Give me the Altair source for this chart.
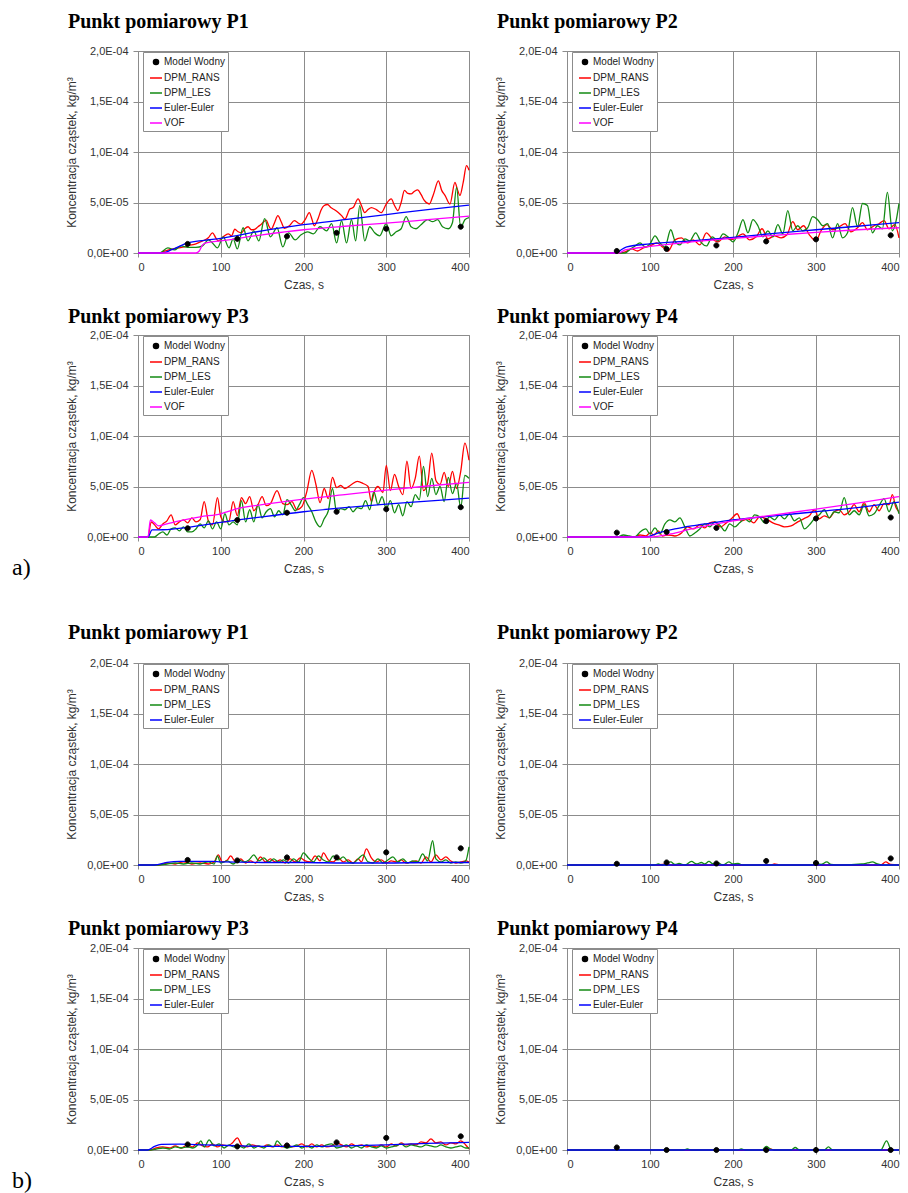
import altair as alt
import pandas as pd

# ---------------- shared tick / series definitions ----------------
X_TICKS = [0, 100, 200, 300, 400]
Y_TICKS = [0.0, 5e-5, 1e-4, 1.5e-4, 2e-4]
Y_TICK_LABELS = ["0,0E+00", "5,0E-05", "1,0E-04", "1,5E-04", "2,0E-04"]
SERIES_A = ["Model Wodny", "DPM_RANS", "DPM_LES", "Euler-Euler", "VOF"]
SERIES_B = ["Model Wodny", "DPM_RANS", "DPM_LES", "Euler-Euler"]
SERIES_COLORS = ["#000000", "#ff0000", "#138a13", "#0000ff", "#ff00ff"]
MW_TIME = [60, 120, 180, 240, 300, 390]
UNIT = 1e-5  # all values below are in 1e-5 kg/m3

# ---------------- a) P1 ----------------
A1_MW = [0.9, 1.4, 1.65, 2.0, 2.4, 2.6]
A1_RANS = [(0,0),(20,0),(26,0),(33,0.2),(40,0.36),(48,0.5),(56,0.6),(62,0.75),(68,0.86),(74,1.05),(80,1.26),(85,1.5),(90,2.0),(94,1.5),(97,1.2),(103,1.6),(109,1.9),(113,1.7),(117,2.35),(121,2.1),(125,2.0),(129,2.4),(133,2.6),(137,2.3),(141,2.35),(145,2.6),(149,2.85),(155,3.25),(158,2.7),(161,2.35),(165,3.0),(169,3.7),(173,3.1),(177,2.45),(183,2.7),(189,3.2),(193,3.0),(197,2.85),(202,3.3),(207,4.0),(210,3.4),(213,2.7),(218,3.5),(221,4.2),(225,4.7),(229,4.8),(233,4.5),(237,4.3),(242,4.0),(246,3.7),(250,3.35),(256,4.35),(260,4.5),(266,5.35),(270,4.7),(274,4.0),(278,4.3),(282,4.5),(288,4.3),(294,4.0),(300,4.85),(306,5.35),(310,4.7),(314,4.2),(318,5.0),(322,6.2),(326,5.9),(330,5.85),(334,6.1),(338,6.25),(342,5.8),(346,5.2),(352,4.85),(357,5.8),(363,7.15),(367,6.2),(371,5.7),(377,4.85),(383,7.0),(386,6.3),(389,5.7),(393,7.0),(397,8.65),(400,8.2)]
A1_LES = [(0,0),(26,0),(36,0.5),(44,0.3),(52,0.7),(60,0.55),(70,0.55),(78,0.7),(85,1.3),(90,1.0),(96,0.5),(103,1.6),(110,0.5),(115,1.4),(120,0.4),(127,2.5),(133,1.2),(140,2.2),(146,1.2),(153,3.4),(160,1.6),(168,2.5),(175,0.6),(182,2.0),(190,1.3),(197,1.8),(205,2.1),(212,1.9),(220,2.6),(228,2.2),(234,2.9),(240,1.0),(246,3.2),(252,1.0),(258,3.3),(263,1.2),(268,4.7),(274,1.2),(280,2.6),(286,2.0),(292,1.7),(300,2.9),(306,1.7),(312,2.1),(318,2.4),(324,3.6),(330,2.6),(336,2.4),(342,2.8),(350,3.3),(356,3.1),(362,3.3),(368,2.6),(375,2.4),(380,3.0),(385,6.5),(390,2.5),(395,3.3),(400,3.5)]
A1_EULER = [(0,0),(30,0),(40,0.3),(50,0.65),(60,1.0),(80,1.25),(100,1.45),(150,2.2),(200,2.8),(250,3.3),(300,3.8),(350,4.3),(400,4.75)]
A1_VOF = [(0,0),(70,0),(74,0.2),(78,0.8),(82,1.0),(100,1.2),(150,1.8),(200,2.3),(250,2.65),(300,2.95),(350,3.3),(400,3.65)]

# ---------------- a) P2 ----------------
A2_MW = [0.2, 0.4, 0.75, 1.15, 1.35, 1.75]
A2_RANS = [(0,0),(65,0),(70,0.1),(78,0.4),(85,0.2),(92,0.5),(100,0.7),(108,1.0),(115,0.6),(122,0.2),(130,1.3),(138,1.5),(145,1.0),(152,1.3),(160,0.8),(168,2.0),(175,1.4),(182,1.1),(190,1.6),(197,1.3),(205,1.6),(212,1.9),(220,1.3),(228,1.6),(235,2.4),(242,1.4),(250,1.7),(258,1.5),(265,1.8),(272,3.1),(278,2.3),(285,2.7),(292,1.8),(300,1.2),(306,2.2),(313,2.8),(320,2.3),(328,2.6),(335,2.9),(342,2.1),(350,2.5),(356,3.0),(362,2.3),(370,2.7),(376,2.9),(382,3.2),(388,2.4),(395,2.8),(400,1.5)]
A2_LES = [(0,0),(70,0),(75,0.3),(82,0.7),(88,1.0),(94,0.6),(100,0.9),(106,1.7),(112,1.0),(118,0.6),(125,2.3),(130,1.2),(136,0.8),(142,1.4),(148,1.2),(155,2.0),(162,1.0),(168,0.7),(175,1.6),(182,1.2),(188,1.9),(194,1.6),(200,1.1),(206,2.0),(212,3.3),(218,2.0),(224,3.3),(230,2.7),(236,1.6),(242,2.2),(248,1.6),(254,2.8),(260,1.9),(266,4.2),(272,2.2),(278,2.7),(284,2.2),(290,2.5),(296,3.6),(302,3.3),(308,2.7),(314,2.9),(320,1.5),(326,2.9),(332,1.5),(338,2.0),(344,4.5),(350,2.6),(356,4.9),(362,4.7),(368,2.0),(374,2.7),(380,2.4),(386,6.0),(392,2.2),(396,3.0),(400,4.9)]
A2_EULER = [(0,0),(60,0),(65,0.3),(72,0.6),(100,0.9),(150,1.2),(200,1.55),(250,1.95),(300,2.3),(350,2.65),(400,3.0)]
A2_VOF = [(0,0),(62,0),(70,0.3),(80,0.45),(100,0.65),(150,1.1),(200,1.45),(250,1.75),(300,2.05),(350,2.3),(400,2.5)]

# ---------------- a) P3 ----------------
A3_MW = [0.86, 1.68, 2.4, 2.5, 2.75, 2.95]
A3_RANS = [(0,0),(12,0),(16,1.5),(20,1.2),(25,0.8),(30,1.3),(35,1.6),(40,2.2),(45,1.2),(50,1.5),(55,1.7),(60,1.4),(65,1.9),(70,1.5),(75,1.7),(80,3.5),(85,1.6),(90,1.2),(96,3.9),(100,2.0),(105,1.5),(110,1.6),(115,3.5),(120,2.1),(125,3.9),(130,3.3),(135,4.0),(140,2.6),(145,3.2),(150,4.0),(155,3.1),(160,3.3),(168,4.6),(175,3.3),(180,3.2),(186,3.5),(192,2.7),(198,3.0),(204,4.5),(210,6.6),(215,5.2),(220,3.4),(225,4.8),(230,3.8),(235,5.9),(240,4.9),(245,5.1),(250,4.8),(258,5.2),(265,5.5),(272,5.3),(278,5.0),(282,3.5),(286,4.6),(290,5.0),(296,4.4),(300,7.1),(305,4.6),(310,6.2),(315,5.0),(320,4.2),(325,7.5),(330,4.8),(335,5.8),(340,8.0),(345,4.6),(350,5.3),(355,8.3),(360,5.6),(365,5.2),(370,6.4),(375,5.0),(380,6.5),(385,4.8),(390,6.5),(395,9.3),(400,7.6)]
A3_LES = [(0,0),(12,0),(20,0),(25,0.3),(30,0.5),(35,0.2),(40,0.8),(45,0.9),(50,0.6),(55,1.0),(60,0.5),(65,0.5),(70,0.8),(75,1.3),(80,0.9),(85,1.6),(90,0.8),(95,1.5),(100,0.8),(105,2.3),(110,1.2),(115,1.5),(120,1.2),(125,3.6),(130,1.5),(135,2.7),(140,1.5),(145,3.2),(150,1.9),(155,2.5),(160,2.8),(165,2.0),(170,2.6),(175,2.2),(180,3.7),(185,3.2),(190,2.6),(195,3.2),(200,3.9),(205,3.2),(210,2.5),(215,1.5),(220,1.0),(225,1.8),(230,2.6),(235,4.8),(240,2.5),(245,2.8),(250,2.7),(255,3.0),(260,2.5),(265,2.9),(270,2.8),(275,3.6),(280,2.7),(285,4.5),(290,3.2),(295,4.0),(300,2.8),(305,3.6),(310,2.4),(315,3.2),(320,2.1),(325,3.5),(330,3.0),(335,4.2),(340,3.7),(345,7.0),(350,4.0),(355,5.8),(360,4.2),(365,5.0),(370,3.5),(375,5.9),(380,4.3),(385,5.3),(390,2.9),(395,6.1),(400,5.8)]
A3_EULER = [(0,0),(12,0),(17,0.7),(30,0.72),(60,0.95),(100,1.45),(150,2.0),(200,2.5),(250,2.9),(300,3.25),(350,3.55),(400,3.85)]
A3_VOF = [(0,0),(12,0),(15,1.7),(20,1.4),(25,1.1),(35,1.3),(50,1.6),(75,2.0),(100,2.3),(120,2.8),(150,3.2),(200,3.75),(250,4.2),(300,4.65),(350,5.05),(400,5.4)]

# ---------------- a) P4 ----------------
A4_MW = [0.43, 0.5, 0.9, 1.57, 1.83, 1.93]
A4_RANS = [(0,0),(80,0),(88,0.2),(95,0.1),(100,0.4),(105,0.2),(110,0.6),(115,0.1),(122,0.2),(130,0.1),(138,0.4),(145,1.0),(152,0.8),(160,1.2),(166,0.9),(172,1.4),(178,1.5),(185,1.0),(192,1.4),(198,1.8),(205,2.3),(210,1.6),(218,1.8),(225,1.4),(232,2.0),(240,1.8),(248,1.4),(255,1.2),(262,1.0),(270,1.1),(278,1.5),(285,1.8),(292,2.1),(298,2.7),(304,1.8),(310,2.1),(316,1.9),(322,2.5),(328,2.7),(334,2.2),(340,2.5),(346,3.2),(352,2.5),(358,3.4),(364,2.5),(370,3.2),(376,2.6),(382,3.3),(388,3.2),(392,4.2),(396,3.0),(400,2.5)]
A4_LES = [(0,0),(60,0),(68,0.2),(75,0.1),(82,0),(88,0.5),(95,0.8),(100,0.3),(106,0.9),(112,0.3),(118,1.3),(124,1.7),(130,1.5),(136,1.9),(142,1.0),(148,0.1),(154,0.4),(160,0.8),(166,1.3),(172,1.0),(178,1.5),(185,1.1),(190,0.6),(196,1.3),(202,1.0),(208,1.4),(214,1.8),(220,1.5),(226,2.2),(232,2.0),(238,1.4),(244,2.0),(250,1.7),(256,2.2),(262,1.8),(268,2.3),(274,1.6),(280,1.9),(286,0.8),(292,1.2),(298,1.8),(304,2.2),(310,2.7),(316,1.9),(322,2.5),(328,2.4),(334,3.9),(340,2.2),(346,2.6),(352,2.2),(358,3.2),(364,2.1),(370,2.3),(376,3.1),(382,3.8),(388,2.5),(394,3.5),(400,2.3)]
A4_EULER = [(0,0),(95,0),(110,0.4),(130,0.8),(150,1.1),(175,1.4),(200,1.7),(250,2.1),(300,2.5),(350,2.9),(400,3.45)]
A4_VOF = [(0,0),(100,0),(125,0.3),(150,0.8),(200,1.6),(250,2.2),(300,2.75),(350,3.35),(400,4.0)]

# ---------------- b) P1 ----------------
B1_MW = [0.5, 0.45, 0.75, 0.75, 1.25, 1.65]
B1_RANS = [(0,0),(25,0),(35,0.2),(45,0.1),(55,0.3),(65,0.1),(75,0.2),(85,0.1),(92,0.3),(97,1.0),(102,0.3),(108,0.5),(112,0.9),(118,0.3),(124,0.6),(130,0.2),(136,0.4),(142,0.2),(148,0.8),(154,0.3),(160,0.6),(166,0.3),(172,0.5),(178,0.2),(184,0.6),(190,0.3),(196,0.7),(202,0.4),(208,0.3),(214,0.9),(220,0.4),(224,1.2),(230,0.5),(236,0.3),(242,0.7),(248,0.3),(254,0.5),(260,0.2),(266,0.6),(270,0.3),(276,1.6),(282,0.7),(288,0.3),(294,0.5),(300,0.2),(306,0.4),(312,0.3),(318,0.5),(324,0.2),(330,0.3),(336,0.4),(342,0.2),(348,0.8),(354,0.3),(360,1.0),(366,0.5),(372,0.8),(378,0.4),(384,0.2),(390,0.3),(396,0.4),(400,0.3)]
B1_LES = [(0,0),(25,0),(35,0.1),(45,0.2),(55,0.1),(65,0.2),(75,0.1),(85,0.3),(92,0.1),(96,0.9),(100,0.2),(108,0.4),(115,0.1),(122,0.5),(128,0.3),(134,0.5),(140,1.0),(146,0.4),(152,0.7),(158,0.3),(164,0.6),(170,0.3),(176,0.5),(182,0.2),(188,0.6),(194,0.3),(200,1.2),(206,0.7),(212,0.3),(218,0.9),(224,0.5),(230,0.3),(236,0.9),(242,0.5),(248,0.8),(254,0.3),(260,0.2),(266,0.6),(272,1.0),(278,0.3),(284,0.2),(290,0.6),(296,0.2),(302,0.5),(308,0.8),(314,0.3),(320,0.6),(326,0.2),(332,0.4),(338,0.3),(344,1.1),(350,0.4),(356,2.4),(360,0.6),(366,0.3),(372,0.5),(378,0.2),(384,0.3),(390,0.2),(396,0.4),(400,1.8)]
B1_EULER = [(0,0),(20,0),(35,0.25),(50,0.35),(90,0.35),(100,0.3),(150,0.25),(200,0.25),(250,0.2),(300,0.2),(350,0.25),(400,0.25)]

# ---------------- b) P2 ----------------
B2_MW = [0.12, 0.25, 0.15, 0.4, 0.2, 0.65]
B2_RANS = [(0,0),(110,0),(115,0.05),(120,0.15),(126,0),(245,0),(250,0.1),(256,0),(378,0),(384,0.3),(390,0.05),(400,0)]
B2_LES = [(0,0),(105,0),(110,0.1),(115,0.0),(125,0.3),(130,0.05),(135,0.15),(142,0.0),(150,0.35),(156,0.1),(162,0.25),(166,0.1),(171,0.35),(176,0.1),(182,0.2),(188,0.0),(195,0.3),(200,0.1),(206,0.15),(212,0),(295,0),(300,0.15),(306,0.05),(313,0.3),(318,0.05),(330,0.0),(355,0.1),(362,0.2),(368,0.3),(374,0.1),(380,0),(400,0)]
B2_EULER = [(0,0),(400,0)]

# ---------------- b) P3 ----------------
B3_MW = [0.55, 0.35, 0.45, 0.75, 1.2, 1.35]
B3_RANS = [(0,0),(15,0),(22,0.2),(30,0.3),(38,0.2),(45,0.4),(52,0.2),(60,0.5),(66,0.3),(72,0.7),(78,0.4),(84,0.3),(90,0.6),(96,0.3),(102,0.5),(108,0.4),(114,0.7),(120,1.2),(126,0.4),(132,0.3),(138,0.5),(144,0.4),(150,0.3),(156,0.5),(162,0.3),(168,0.5),(174,0.3),(180,0.6),(186,0.3),(192,0.4),(198,0.6),(204,0.3),(210,0.6),(216,0.3),(222,0.5),(228,0.3),(234,0.4),(240,0.7),(246,0.5),(252,0.3),(258,0.6),(264,0.4),(270,0.5),(276,0.3),(282,0.4),(288,0.3),(294,0.5),(300,0.3),(306,0.6),(312,0.4),(318,0.7),(324,0.5),(330,0.6),(336,0.5),(342,0.8),(348,0.7),(354,1.1),(360,0.7),(366,0.8),(372,0.5),(378,0.7),(384,0.6),(390,0.9),(396,0.5),(400,0.1)]
B3_LES = [(0,0),(15,0),(22,0.1),(30,0.2),(38,0.1),(45,0.3),(52,0.2),(60,0.3),(66,0.2),(72,0.5),(76,0.9),(80,0.3),(86,1.0),(92,0.4),(98,0.6),(104,0.2),(110,0.5),(116,0.3),(122,0.4),(128,0.2),(134,0.6),(140,0.2),(146,0.4),(152,0.2),(158,0.5),(164,0.3),(168,0.9),(174,0.4),(180,0.2),(186,0.3),(192,0.5),(198,0.2),(204,0.4),(210,0.2),(216,0.5),(222,0.3),(228,0.5),(234,0.6),(240,0.2),(246,0.3),(252,0.5),(258,0.2),(264,0.4),(270,0.2),(276,0.5),(282,0.3),(288,0.2),(294,0.4),(300,0.2),(306,0.3),(312,0.4),(318,0.6),(324,0.3),(330,0.5),(336,0.4),(342,0.3),(348,0.5),(354,0.4),(360,0.3),(366,0.5),(372,0.3),(378,0.2),(384,0.3),(390,0.4),(396,0.2),(400,0.2)]
B3_EULER = [(0,0),(12,0),(20,0.35),(28,0.55),(50,0.58),(80,0.5),(120,0.42),(160,0.35),(200,0.35),(250,0.4),(300,0.5),(350,0.65),(400,0.75)]

# ---------------- b) P4 ----------------
B4_MW = [0.25, 0.0, 0.0, 0.0, 0.0, 0.0]
B4_RANS = [(0,0),(240,0),(245,0.1),(250,0),(400,0)]
B4_LES = [(0,0),(140,0),(145,0.1),(150,0),(205,0),(210,0.1),(215,0),(235,0),(240,0.35),(245,0.1),(250,0),(270,0),(275,0.25),(280,0),(310,0),(315,0.3),(320,0),(378,0),(385,0.9),(391,0),(400,0)]
B4_EULER = [(0,0),(400,0)]

# ---------------- styling ----------------
SANS = "Liberation Sans"
SERIF = "Liberation Serif"
GRID = "#8c8c8c"
TXT = "#333333"
DOT = "M-0.42,0A0.42,0.42,0,1,1,0.42,0A0.42,0.42,0,1,1,-0.42,0Z"
W_L, W_R, H = 331, 332, 202


def y_label_expr():
    expr = "'" + Y_TICK_LABELS[-1] + "'"
    pairs = list(zip(Y_TICKS[:-1], Y_TICK_LABELS[:-1]))
    for val, lab in reversed(pairs):
        expr = "datum.value < %g ? '%s' : (%s)" % (val + 2.5e-5, lab, expr)
    return expr


def panel(title, mw_vals, lines, series, width, title_offset, corner=None, gap_below=None):
    rows = []
    for name, pts in lines.items():
        for t, v in pts:
            rows.append({"t": t, "v": v * UNIT, "series": name})
    line_df = pd.DataFrame(rows)
    pt_df = pd.DataFrame({"t": MW_TIME, "v": [v * UNIT for v in mw_vals],
                          "series": ["Model Wodny"] * len(MW_TIME)})
    colors = SERIES_COLORS[:len(series)]
    shapes = [DOT] + ["stroke"] * (len(series) - 1)

    x = alt.X("t:Q", scale=alt.Scale(domain=[0, 400], nice=False),
              axis=alt.Axis(values=X_TICKS, format="d", title="Czas, s", grid=True,
                            gridColor=GRID, domainColor=GRID, tickColor=GRID, tickSize=4,
                            labelPadding=4, labelFont=SANS, labelFontSize=11, labelColor=TXT,
                            titleFont=SANS, titleFontSize=12, titleFontWeight="normal",
                            titleColor=TXT, titlePadding=7))
    y = alt.Y("v:Q", scale=alt.Scale(domain=[0, 2e-4], nice=False, zero=True),
              axis=alt.Axis(values=Y_TICKS, labelExpr=y_label_expr(),
                            title="Koncentracja cząstek, kg/m³", grid=True,
                            gridColor=GRID, domainColor=GRID, tickColor=GRID, tickSize=5,
                            labelPadding=5, labelFont=SANS, labelFontSize=11, labelColor=TXT,
                            titleFont=SANS, titleFontSize=12, titleFontWeight="normal",
                            titleColor=TXT, titlePadding=8))

    leg = alt.Legend(title=None, orient="none", legendX=5, legendY=1, fillColor="white",
                     strokeColor=GRID, padding=3, rowPadding=3, symbolOffset=3, labelOffset=1,
                     labelFont=SANS, labelFontSize=10, labelColor="#222222", symbolSize=144,
                     symbolStrokeWidth=1.5, cornerRadius=0)
    stroke_scale = alt.Scale(domain=series, range=colors)

    line_layer = alt.Chart(line_df).mark_line(strokeWidth=1.3, interpolate="monotone").encode(
        x=x, y=y,
        stroke=alt.Stroke("series:N", scale=stroke_scale, legend=leg),
    )
    pt_layer = alt.Chart(pt_df).mark_point(filled=True, opacity=1, size=144, strokeWidth=1).encode(
        x=x, y=y,
        fill=alt.Fill("series:N", scale=alt.Scale(domain=series, range=colors), legend=leg),
        stroke=alt.Stroke("series:N", scale=stroke_scale, legend=leg),
        shape=alt.Shape("series:N", scale=alt.Scale(domain=series, range=shapes), legend=leg),
    )
    layers = [line_layer, pt_layer]
    if corner is not None:
        txt = alt.Chart(pd.DataFrame({"lab": [corner]})).mark_text(
            font=SERIF, fontSize=24, align="left", baseline="alphabetic", color="black"
        ).encode(x=alt.value(-126), y=alt.value(H + 38), text="lab:N")
        layers.append(txt)
    if gap_below is not None:
        # invisible layout spacer that widens the gap below this row
        sp = alt.Chart(pd.DataFrame({"lab": ["."]})).mark_text(
            fontSize=10, opacity=0, baseline="bottom"
        ).encode(x=alt.value(width / 2), y=alt.value(H + gap_below), text="lab:N")
        layers.append(sp)
    return alt.layer(*layers).properties(
        width=width, height=H,
        title=alt.TitleParams(title, anchor="start", frame="group", dx=-70, offset=title_offset,
                              baseline="alphabetic", font=SERIF, fontSize=20, fontWeight="bold",
                              color="black"),
    )


INDEP = dict(stroke="independent", fill="independent", shape="independent")

pA1 = panel("Punkt pomiarowy P1", A1_MW, {"DPM_RANS": A1_RANS, "DPM_LES": A1_LES, "Euler-Euler": A1_EULER, "VOF": A1_VOF}, SERIES_A, W_L, -3)
pA2 = panel("Punkt pomiarowy P2", A2_MW, {"DPM_RANS": A2_RANS, "DPM_LES": A2_LES, "Euler-Euler": A2_EULER, "VOF": A2_VOF}, SERIES_A, W_R, -3)
pA3 = panel("Punkt pomiarowy P3", A3_MW, {"DPM_RANS": A3_RANS, "DPM_LES": A3_LES, "Euler-Euler": A3_EULER, "VOF": A3_VOF}, SERIES_A, W_L, -14, corner="a)")
pA4 = panel("Punkt pomiarowy P4", A4_MW, {"DPM_RANS": A4_RANS, "DPM_LES": A4_LES, "Euler-Euler": A4_EULER, "VOF": A4_VOF}, SERIES_A, W_R, -14, gap_below=69)
pB1 = panel("Punkt pomiarowy P1", B1_MW, {"DPM_RANS": B1_RANS, "DPM_LES": B1_LES, "Euler-Euler": B1_EULER}, SERIES_B, W_L, -2)
pB2 = panel("Punkt pomiarowy P2", B2_MW, {"DPM_RANS": B2_RANS, "DPM_LES": B2_LES, "Euler-Euler": B2_EULER}, SERIES_B, W_R, -2)
pB3 = panel("Punkt pomiarowy P3", B3_MW, {"DPM_RANS": B3_RANS, "DPM_LES": B3_LES, "Euler-Euler": B3_EULER}, SERIES_B, W_L, -13, corner="b)")
pB4 = panel("Punkt pomiarowy P4", B4_MW, {"DPM_RANS": B4_RANS, "DPM_LES": B4_LES, "Euler-Euler": B4_EULER}, SERIES_B, W_R, -13)

chart = alt.concat(pA1, pA2, pA3, pA4, pB1, pB2, pB3, pB4, columns=2,
                   spacing={"row": 15, "column": 21})
chart = chart.resolve_scale(**INDEP).resolve_legend(**INDEP)
chart = chart.properties(
    padding={"left": 11, "top": 11, "right": 0, "bottom": 0},
    autosize=alt.AutoSizeParams(type="pad"),
    background="white",
).configure_view(stroke=GRID, strokeWidth=1)

chart.save("out.html", embed_options={"renderer": "svg", "actions": False})
